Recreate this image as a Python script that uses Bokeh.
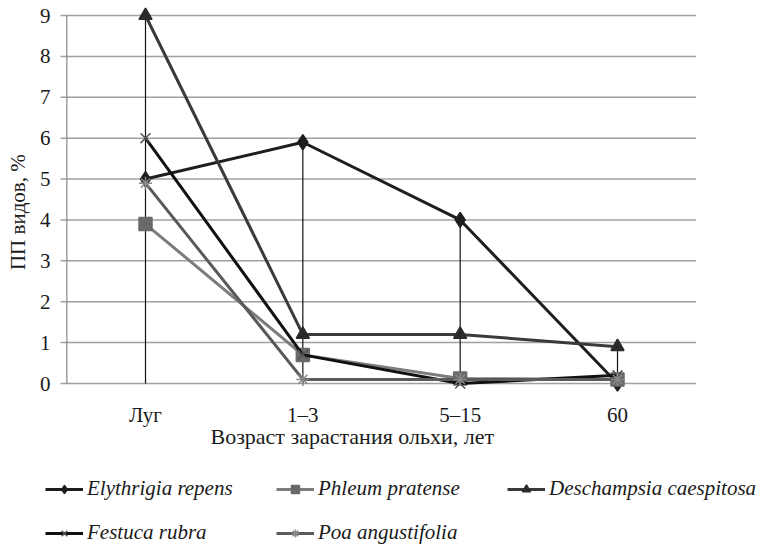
import math
from bokeh.plotting import figure
from bokeh.models import FactorRange, Range1d, Legend, LegendItem
from bokeh.core.properties import value
from bokeh.embed import file_html
from bokeh.resources import INLINE

categories = ["Луг", "1–3", "5–15", "60"]
elythrigia = [5.0, 5.9, 4.0, 0.0]
phleum = [3.9, 0.7, 0.12, 0.1]
deschampsia = [9.0, 1.2, 1.2, 0.9]
festuca = [6.0, 0.7, 0.0, 0.2]
poa = [4.9, 0.1, 0.1, 0.1]
y_ticks = [0, 1, 2, 3, 4, 5, 6, 7, 8, 9]
x_title = "Возраст зарастания ольхи, лет"
y_title = "ПП видов, %"

series = [
    ("Elythrigia repens", elythrigia, "#1e1e1e", "#1e1e1e", "diamond", 15),
    ("Phleum pratense", phleum, "#7c7c7c", "#6a6a6a", "square", 13),
    ("Deschampsia caespitosa", deschampsia, "#3a3a3a", "#2a2a2a", "triangle", 13),
    ("Festuca rubra", festuca, "#111111", "#555555", "x", 14),
    ("Poa angustifolia", poa, "#5a5a5a", "#888888", "asterisk", 13),
]
# legend fills column by column: (Elythrigia, Festuca), (Phleum, Poa), (Deschampsia)
legend_order = [0, 3, 1, 4, 2]

SERIF = "Liberation Serif"
TXT = "#1a1a1a"
W, H = 762, 545

# The frame covers the whole canvas; the plotting area (x 0..4, y 0..9) sits inside it,
# with room left for the hand-placed axis texts and the legend.
p = figure(x_range=FactorRange(*categories, range_padding=0.4216, range_padding_units="absolute"),
           y_range=Range1d(-3.962, 9.367),
           width=W, height=H, output_backend="svg", toolbar_location=None,
           min_border=0, min_border_left=0, min_border_right=0, min_border_top=0,
           min_border_bottom=0, x_axis_location=None, y_axis_location=None)
p.outline_line_color = None
p.grid.visible = False

n_cat = len(categories)
ymax = max(y_ticks)

# horizontal grid lines (with the short outer tick on the left)
p.segment(x0=[-0.04] * len(y_ticks), y0=y_ticks, x1=[n_cat] * len(y_ticks), y1=y_ticks,
          line_color="#a0a0a0", line_width=1.5)
# vertical axis line
p.segment(x0=[0], y0=[0], x1=[0], y1=[ymax], line_color="#888888", line_width=1.2)

# drop lines from each category's maximum down to zero
drop_top = [max(vals) for vals in zip(elythrigia, phleum, deschampsia, festuca, poa)]
p.segment(x0=categories, y0=[0] * n_cat, x1=categories, y1=drop_top,
          line_color="#111111", line_width=1.2)

items = []
for name, vals, lc, mc, marker, size in series:
    r1 = p.line(categories, vals, line_color=lc, line_width=3)
    r2 = p.scatter(categories, vals, marker=marker, size=size, fill_color=mc,
                   line_color=mc, line_width=1.5)
    items.append(LegendItem(label=name, renderers=[r1, r2]))
items = [items[i] for i in legend_order]

# y tick labels
p.text(x=[-0.104] * len(y_ticks), y=y_ticks, text=[str(t) for t in y_ticks],
       text_font=value(SERIF), text_font_size="21px", text_color=TXT,
       text_align="right", text_baseline="middle")
# x tick labels
p.text(x=categories, y=[-0.78] * n_cat, text=categories,
       text_font=value(SERIF), text_font_size="21px", text_color=TXT,
       text_align="center", text_baseline="middle")
# axis titles
p.text(x=[0.913], y=[-1.30], text=[x_title], text_font=value(SERIF),
       text_font_size="22px", text_color=TXT, text_align="left", text_baseline="middle")
p.text(x=[-0.31], y=[4.19], text=[y_title], angle=math.pi / 2, text_font=value(SERIF),
       text_font_size="21px", text_color=TXT, text_align="center", text_baseline="middle")

legend = Legend(items=items, ncols=3, location=(45, 0),
                label_text_font=SERIF, label_text_font_style="italic",
                label_text_font_size="21px", label_text_color=TXT,
                glyph_width=38, glyph_height=20, label_height=20, label_width=170,
                label_standoff=4, spacing=19, padding=0, margin=0,
                border_line_color=None, background_fill_alpha=0)
p.add_layout(legend, "center")

open("out.html", "w").write(file_html(p, INLINE))
